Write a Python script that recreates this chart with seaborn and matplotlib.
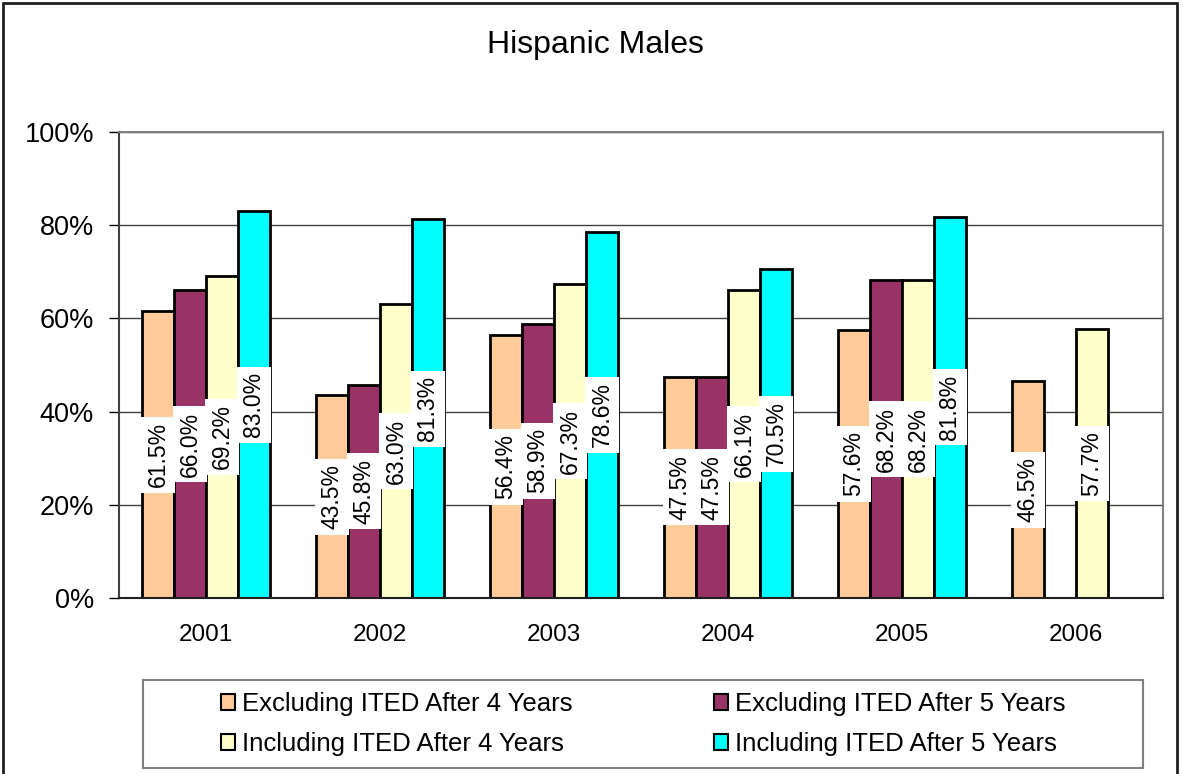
import numpy as np
import pandas as pd
import matplotlib
matplotlib.use("Agg")
import matplotlib.pyplot as plt
import seaborn as sns
from matplotlib.patches import Patch, Rectangle

# Graduation rates by cohort year
years = ["2001", "2002", "2003", "2004", "2005", "2006"]
series = [
    "Excluding ITED After 4 Years",
    "Excluding ITED After 5 Years",
    "Including ITED After 4 Years",
    "Including ITED After 5 Years",
]
excl_4yr = [61.5, 43.5, 56.4, 47.5, 57.6, 46.5]
excl_5yr = [66.0, 45.8, 58.9, 47.5, 68.2, np.nan]
incl_4yr = [69.2, 63.0, 67.3, 66.1, 68.2, 57.7]
incl_5yr = [83.0, 81.3, 78.6, 70.5, 81.8, np.nan]
colors = ["#FFCC99", "#993366", "#FFFFCC", "#00FFFF"]
yticks = [0, 20, 40, 60, 80, 100]
ytick_labels = ["0%", "20%", "40%", "60%", "80%", "100%"]

rows = []
for name, vals in zip(series, [excl_4yr, excl_5yr, incl_4yr, incl_5yr]):
    for yr, v in zip(years, vals):
        rows.append({"year": yr, "series": name, "value": v})
df = pd.DataFrame(rows)

sns.set_style("white")
plt.rcParams["font.family"] = ["Liberation Sans", "DejaVu Sans"]
plt.rcParams["text.color"] = "black"
plt.rcParams["axes.labelcolor"] = "black"
plt.rcParams["xtick.color"] = "black"
plt.rcParams["ytick.color"] = "black"
plt.rcParams["xtick.labelcolor"] = "black"
plt.rcParams["ytick.labelcolor"] = "black"

W, H = 1183, 774
fig = plt.figure(figsize=(W / 100, H / 100), dpi=100)
ax = fig.add_axes([119 / W, 1 - 598 / H, (1163 - 119) / W, (598 - 132) / H])

sns.barplot(
    data=df, x="year", y="value", hue="series",
    order=years, hue_order=series,
    palette=dict(zip(series, colors)), saturation=1,
    width=0.735, edgecolor="black", linewidth=2.0,
    errorbar=None, legend=False, ax=ax,
)

ax.set_xlim(-0.5, len(years) - 0.5)
ax.set_ylim(0, 100)
ax.set_yticks(yticks)
ax.set_yticklabels(ytick_labels, fontsize=19.5)
ax.set_xlabel("")
ax.set_ylabel("")

# gridlines behind the bars
ax.set_axisbelow(True)
ax.yaxis.grid(True, color="#404040", linewidth=1)
ax.xaxis.grid(False)

# category labels without ticks, ticks at category boundaries
ax.set_xticks(range(len(years)))
ax.set_xticklabels(years, fontsize=17.5)
ax.set_xticks(np.arange(-0.5, len(years), 1), minor=True)
ax.tick_params(axis="x", which="major", length=0, pad=19)
ax.tick_params(axis="x", which="minor", length=7, width=1, color="#404040", direction="out")
ax.tick_params(axis="y", length=7, width=1, color="black", direction="out", pad=11, left=True)

for side in ["top", "right"]:
    ax.spines[side].set_color("#808080")
    ax.spines[side].set_linewidth(1.5)
ax.spines["left"].set_color("#404040")
ax.spines["left"].set_linewidth(1.5)
ax.spines["bottom"].set_color("#202020")
ax.spines["bottom"].set_linewidth(1.5)

# value labels at mid-height of each bar
for cont in ax.containers:
    for bar in cont:
        h = bar.get_height()
        if np.isfinite(h) and h > 0:
            ax.text(
                bar.get_x() + bar.get_width() / 2, h / 2, f"{h:.1f}%",
                rotation=90, ha="center", va="center", fontsize=16.5,
                bbox=dict(facecolor="white", edgecolor="none", pad=4),
                zorder=5,
            )

# title
fig.text(595 / W, 1 - 45 / H, "Hispanic Males", ha="center", va="center", fontsize=23)

# legend
handles = [Patch(facecolor=c, edgecolor="black", linewidth=1.5) for c in colors]
order = [0, 2, 1, 3]
fig.legend(
    [handles[i] for i in order], [series[i] for i in order],
    ncol=2, loc="center", bbox_to_anchor=((143 + 1143) / 2 / W, 1 - 724 / H),
    frameon=False, fontsize=18.5, handlelength=0.57, handleheight=0.57,
    handletextpad=0.25, columnspacing=5.5, labelspacing=0.6,
)
fig.add_artist(Rectangle((143 / W, 1 - 768 / H), 1000 / W, 88 / H,
                         transform=fig.transFigure, fill=False,
                         edgecolor="#808080", linewidth=1.5))

# outer chart frame
fig.add_artist(Rectangle((3 / W, -0.05), (1177 - 3) / W, 1 - 3 / H + 0.05,
                         transform=fig.transFigure, fill=False,
                         edgecolor="#202020", linewidth=2))

fig.savefig("out.png", dpi=100)
